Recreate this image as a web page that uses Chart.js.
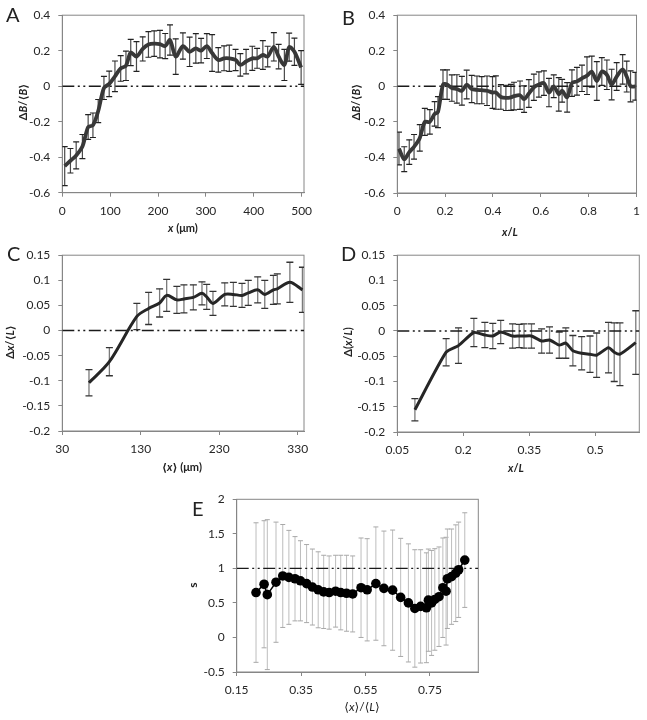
<!DOCTYPE html>
<html>
<head>
<meta charset="utf-8">
<script src="https://cdn.jsdelivr.net/npm/chart.js@4"></script>
<style>
  body { margin: 0; background: #fff; }
  #wrap { position: relative; width: 647px; height: 720px; font-family: Lato, "DejaVu Sans", sans-serif; color: #222; }
  canvas { position: absolute; }
  .lbl { position: absolute; font-size: 20px; line-height: 1; }
  .t { position: absolute; white-space: nowrap; font-size: 11px; font-weight: bold; transform: translate(-50%, -50%); }
  .t.r { transform: translate(-50%, -50%) rotate(-90deg); }
</style>
</head>
<body>
<div id="wrap">
  <canvas id="cA" width="320" height="240" style="left:0;top:0"></canvas>
  <canvas id="cB" width="327" height="240" style="left:320px;top:0"></canvas>
  <canvas id="cC" width="320" height="240" style="left:0;top:240px"></canvas>
  <canvas id="cD" width="327" height="240" style="left:320px;top:240px"></canvas>
  <canvas id="cE" width="320" height="240" style="left:170px;top:480px"></canvas>

  <div class="lbl" style="left:6px;top:4px">A</div>
  <div class="lbl" style="left:342px;top:7px">B</div>
  <div class="lbl" style="left:7px;top:243px">C</div>
  <div class="lbl" style="left:341px;top:243px">D</div>
  <div class="lbl" style="left:192px;top:498px">E</div>

  <div class="t" style="left:183px;top:227px"><i>x</i> (μm)</div>
  <div class="t r" style="left:23px;top:102px">Δ<i>B</i>/⟨<i>B</i>⟩</div>
  <div class="t" style="left:510px;top:231px"><i>x</i>/<i>L</i></div>
  <div class="t r" style="left:356px;top:102px">Δ<i>B</i>/⟨<i>B</i>⟩</div>
  <div class="t" style="left:182px;top:467px">⟨<i>x</i>⟩ (μm)</div>
  <div class="t r" style="left:10px;top:342px">Δ<i>x</i>/⟨<i>L</i>⟩</div>
  <div class="t" style="left:516px;top:467px"><i>x</i>/<i>L</i></div>
  <div class="t r" style="left:347px;top:342px">Δ(<i>x</i>/<i>L</i>)</div>
  <div class="t" style="left:362px;top:706px;font-weight:normal;font-size:12px">⟨<i>x</i>⟩/⟨<i>L</i>⟩</div>
  <div class="t r" style="left:192px;top:585px;font-size:12px">s</div>
</div>
<script>
// ---- panel A: ΔB/<B> vs x (µm)
const xA = [5, 17, 29, 42, 54, 64, 75, 87, 98, 110, 122, 133, 143, 155, 168, 180, 192, 204, 215, 225, 237,
  252, 266, 279, 290, 302, 313, 326, 338, 349, 362, 372, 384, 397, 407, 419, 429, 442, 452, 464, 474, 485, 499];
const yA = [-0.45, -0.42, -0.39, -0.34, -0.23, -0.22, -0.14, -0.01, 0.013, 0.056, 0.10, 0.115, 0.19, 0.167, 0.21, 0.235, 0.24, 0.237, 0.226, 0.26, 0.167,
  0.226, 0.194, 0.213, 0.20, 0.226, 0.187, 0.148, 0.157, 0.157, 0.148, 0.12, 0.139, 0.157, 0.157, 0.176, 0.167, 0.222, 0.167, 0.12, 0.22, 0.194, 0.105];
const eA = [0.11, 0.069, 0.076, 0.068, 0.07, 0.069, 0.065, 0.065, 0.072, 0.086, 0.072, 0.083, 0.074, 0.084, 0.068, 0.072, 0.072, 0.077, 0.071, 0.085, 0.1,
  0.074, 0.083, 0.083, 0.069, 0.07, 0.104, 0.069, 0.07, 0.074, 0.06, 0.063, 0.069, 0.068, 0.056, 0.081, 0.058, 0.08, 0.069, 0.088, 0.079, 0.077, 0.095];

// ---- panel B: ΔB/<B> vs x/L
const xB = [0.007, 0.029, 0.05, 0.07, 0.094, 0.115, 0.136, 0.156, 0.17, 0.191, 0.208, 0.228, 0.249, 0.27, 0.29, 0.311, 0.333, 0.353, 0.375, 0.398,
  0.412, 0.433, 0.454, 0.475, 0.488, 0.513, 0.53, 0.55, 0.571, 0.592, 0.613, 0.634, 0.654, 0.675, 0.689, 0.71, 0.73, 0.751, 0.772, 0.793,
  0.813, 0.834, 0.855, 0.876, 0.896, 0.917, 0.942, 0.959, 0.975, 0.995];
const yB = [-0.35, -0.41, -0.37, -0.34, -0.29, -0.2, -0.2, -0.155, -0.145, 0.01, 0.01, -0.01, -0.015, -0.025, 0.01, -0.015, -0.02, -0.022, -0.025, -0.035,
  -0.035, -0.06, -0.065, -0.062, -0.055, -0.05, -0.072, -0.04, -0.005, 0.01, 0.018, -0.035, 0, -0.045, -0.025, -0.062, 0.018, 0.028, 0.045, 0.06,
  0.083, 0.03, 0.083, 0.065, 0.01, 0.055, 0.095, 0.055, 0, 0];
const eB = [0.092, 0.07, 0.069, 0.069, 0.074, 0.076, 0.069, 0.069, 0.087, 0.083, 0.083, 0.074, 0.08, 0.081, 0.081, 0.077, 0.078, 0.076, 0.083, 0.089,
  0.094, 0.069, 0.071, 0.073, 0.078, 0.08, 0.075, 0.078, 0.074, 0.071, 0.069, 0.08, 0.064, 0.094, 0.064, 0.083, 0.074, 0.078, 0.074, 0.106,
  0.087, 0.109, 0.078, 0.083, 0.086, 0.078, 0.083, 0.087, 0.087, 0.078];

// ---- panel C: Δx/<L> vs <x> (µm)
const xC = [64, 90, 125, 140, 154, 163, 176, 185, 197, 208, 214, 222, 237, 248, 259, 267, 279, 288, 299, 304, 320, 336];
const yC = [-0.104, -0.062, 0.028, 0.044, 0.055, 0.07, 0.061, 0.063, 0.066, 0.074, 0.067, 0.054, 0.072, 0.072, 0.07, 0.075, 0.081, 0.072, 0.081, 0.083, 0.096, 0.081];
const eC = [0.026, 0.028, 0.026, 0.032, 0.028, 0.032, 0.027, 0.028, 0.025, 0.023, 0.025, 0.024, 0.023, 0.024, 0.024, 0.025, 0.026, 0.028, 0.029, 0.03, 0.04, 0.045];

// ---- panel D: Δ(x/L) vs x/L
const xD = [0.09, 0.161, 0.189, 0.224, 0.249, 0.267, 0.285, 0.312, 0.327, 0.338, 0.355, 0.378, 0.396, 0.418, 0.433, 0.449, 0.469, 0.488, 0.503, 0.53, 0.543, 0.556, 0.592];
const yD = [-0.156, -0.042, -0.029, -0.003, -0.008, -0.01, -0.002, -0.01, -0.01, -0.01, -0.01, -0.02, -0.018, -0.028, -0.024, -0.039, -0.044, -0.046, -0.048, -0.033, -0.042, -0.046, -0.023];
const eD = [0.022, 0.027, 0.035, 0.028, 0.025, 0.025, 0.023, 0.024, 0.023, 0.024, 0.024, 0.024, 0.026, 0.026, 0.03, 0.03, 0.033, 0.036, 0.044, 0.05, 0.058, 0.062, 0.063];

// ---- panel E: s vs <x>/<L>
const xE = [0.21, 0.235, 0.245, 0.272, 0.293, 0.312, 0.331, 0.348, 0.367, 0.385, 0.403, 0.42, 0.437, 0.457, 0.473, 0.491, 0.51, 0.536, 0.555,
  0.582, 0.607, 0.634, 0.659, 0.683, 0.703, 0.721, 0.739, 0.745, 0.755, 0.765, 0.778, 0.79, 0.8, 0.804, 0.817, 0.83, 0.839, 0.858];
const yE = [0.65, 0.77, 0.62, 0.8, 0.89, 0.87, 0.85, 0.82, 0.78, 0.73, 0.69, 0.66, 0.65, 0.67, 0.65, 0.64, 0.63, 0.72, 0.69,
  0.78, 0.71, 0.685, 0.58, 0.5, 0.42, 0.45, 0.43, 0.54, 0.5, 0.55, 0.59, 0.72, 0.67, 0.85, 0.88, 0.93, 0.98, 1.12];
const eE = [1.01, 0.92, 1.085, 0.87, 0.745, 0.68, 0.61, 0.58, 0.565, 0.55, 0.55, 0.53, 0.53, 0.52, 0.54, 0.55, 0.55, 0.72, 0.74,
  0.82, 0.83, 0.87, 0.855, 0.855, 0.85, 0.82, 0.795, 0.74, 0.76, 0.735, 0.72, 0.72, 0.78, 0.72, 0.69, 0.7, 0.69, 0.685];

// tick labels
const ticksA = [0, 100, 200, 300, 400, 500];
const ticksB = [0, 0.2, 0.4, 0.6, 0.8, 1];
const ticksAB_y = [-0.6, -0.4, -0.2, 0, 0.2, 0.4];
const ticksC = [30, 130, 230, 330];
const ticksD = [0.05, 0.2, 0.35, 0.5];
const ticksCD_y = [-0.2, -0.15, -0.1, -0.05, 0, 0.05, 0.1, 0.15];
const ticksE = [0.15, 0.35, 0.55, 0.75];
const ticksE_y = [-0.5, 0, 0.5, 1, 1.5, 2];

Chart.defaults.font.family = 'Lato, "DejaVu Sans", sans-serif';
Chart.defaults.font.size = 12;
Chart.defaults.color = '#262626';
const axisGray = '#868686';

// error bars drawn under the lines, through the chart's own scales
const errorBars = {
  id: 'errorBars',
  beforeDatasetsDraw(chart) {
    const ctx = chart.ctx, a = chart.chartArea;
    const xs = chart.scales.x, ys = chart.scales.y;
    chart.data.datasets.forEach((ds) => {
      if (!ds.errors) return;
      ctx.save();
      ctx.beginPath();
      ctx.rect(a.left, a.top - 2, a.right - a.left, a.bottom - a.top + 4);
      ctx.clip();
      ctx.lineWidth = ds.errWidth;
      const cap = ds.capHalf;
      ds.data.forEach((p, j) => {
        const e = ds.errors[j];
        const px = xs.getPixelForValue(p.x);
        const top = ys.getPixelForValue(p.y + e);
        const bot = ys.getPixelForValue(p.y - e);
        ctx.strokeStyle = ds.errColor;
        ctx.beginPath();
        ctx.moveTo(px, top); ctx.lineTo(px, bot);
        ctx.stroke();
        ctx.strokeStyle = ds.capColor || ds.errColor;
        ctx.beginPath();
        ctx.moveTo(px - cap, top); ctx.lineTo(px + cap, top);
        ctx.moveTo(px - cap, bot); ctx.lineTo(px + cap, bot);
        ctx.stroke();
      });
      ctx.restore();
    });
  }
};

const frame = {
  id: 'frame',
  beforeDatasetsDraw(chart) {
    const a = chart.chartArea, c = chart.ctx;
    c.save();
    c.strokeStyle = axisGray;
    c.lineWidth = 1;
    c.strokeRect(a.left, a.top, a.right - a.left, a.bottom - a.top);
    c.restore();
  }
};

const fmt = (v) => String(+(+v).toFixed(3));

function panel(id, o) {
  const pts = o.xs.map((x, i) => ({ x, y: o.ys[i] }));
  new Chart(document.getElementById(id), {
    type: 'line',
    data: {
      datasets: [
        {
          data: pts,
          errors: o.err,
          errColor: o.errColor,
          capColor: o.capColor,
          errWidth: o.errWidth,
          capHalf: o.capHalf,
          borderColor: o.lineColor,
          borderWidth: o.lineWidth,
          tension: o.tension,
          pointRadius: o.pointRadius || 0,
          pointBackgroundColor: '#000',
          pointBorderWidth: 0,
        },
        {
          // dash-dot-dot reference line
          data: [{ x: o.xMin, y: o.ref }, { x: o.xMax, y: o.ref }],
          borderColor: '#1a1a1a',
          borderWidth: 1.4,
          borderDash: [12, 3.5, 2, 3.5, 2, 3.5],
          pointRadius: 0,
        },
      ],
    },
    options: {
      responsive: false,
      animation: false,
      events: [],
      layout: { padding: { top: o.top, right: o.right, left: 0, bottom: 0 } },
      plugins: { legend: { display: false }, tooltip: { enabled: false } },
      scales: {
        x: {
          type: 'linear',
          min: o.xMin,
          max: o.xMax,
          afterBuildTicks: (s) => { s.ticks = o.xTicks.map((v) => ({ value: v })); },
          afterFit: (s) => { s.height = o.xh; },
          grid: { drawOnChartArea: false, tickLength: 4, color: axisGray },
          border: { color: axisGray },
          ticks: { padding: 7, maxRotation: 0, autoSkip: false, callback: fmt },
        },
        y: {
          type: 'linear',
          min: o.yMin,
          max: o.yMax,
          afterBuildTicks: (s) => { s.ticks = o.yTicks.map((v) => ({ value: v })); },
          afterFit: (s) => { s.width = o.yw; },
          grid: { drawOnChartArea: false, tickLength: 4, color: axisGray },
          border: { color: axisGray },
          ticks: { padding: 8, autoSkip: false, callback: fmt },
        },
      },
    },
    plugins: [frame, errorBars],
  });
}

panel('cA', {
  xs: xA, ys: yA, err: eA, xMin: 0, xMax: 505, yMin: -0.6, yMax: 0.4, ref: 0,
  xTicks: ticksA, yTicks: ticksAB_y, top: 11.7, right: 16, yw: 62.3, xh: 47.3,
  lineColor: '#383838', lineWidth: 3.8, tension: 0.3,
  errColor: '#4a4a4a', capColor: '#222', errWidth: 1.2, capHalf: 3,
});
panel('cB', {
  xs: xB, ys: yB, err: eB, xMin: 0, xMax: 1, yMin: -0.6, yMax: 0.4, ref: 0,
  xTicks: ticksB, yTicks: ticksAB_y, top: 11.7, right: 8, yw: 77.3, xh: 47,
  lineColor: '#383838', lineWidth: 3.8, tension: 0.3,
  errColor: '#4a4a4a', capColor: '#222', errWidth: 1.2, capHalf: 3,
});
panel('cC', {
  xs: xC, ys: yC, err: eC, xMin: 30, xMax: 338, yMin: -0.2, yMax: 0.15, ref: 0,
  xTicks: ticksC, yTicks: ticksCD_y, top: 11.7, right: 16, yw: 62.3, xh: 49,
  lineColor: '#262626', lineWidth: 3, tension: 0.3,
  errColor: '#7a7a7a', capColor: '#333', errWidth: 1.3, capHalf: 3.5,
});
panel('cD', {
  xs: xD, ys: yD, err: eD, xMin: 0.05, xMax: 0.6, yMin: -0.2, yMax: 0.15, ref: 0,
  xTicks: ticksD, yTicks: ticksCD_y, top: 11.7, right: 7.7, yw: 77.3, xh: 48,
  lineColor: '#262626', lineWidth: 3, tension: 0.2,
  errColor: '#7a7a7a', capColor: '#333', errWidth: 1.3, capHalf: 3.5,
});
panel('cE', {
  xs: xE, ys: yE, err: eE, xMin: 0.15, xMax: 0.9, yMin: -0.5, yMax: 2, ref: 1,
  xTicks: ticksE, yTicks: ticksE_y, top: 19.3, right: 11.7, yw: 66.7, xh: 48,
  lineColor: '#000', lineWidth: 1.5, tension: 0, pointRadius: 4.8,
  errColor: '#bdbdbd', capColor: '#a8a8a8', errWidth: 1, capHalf: 2.5,
});
</script>
</body>
</html>
